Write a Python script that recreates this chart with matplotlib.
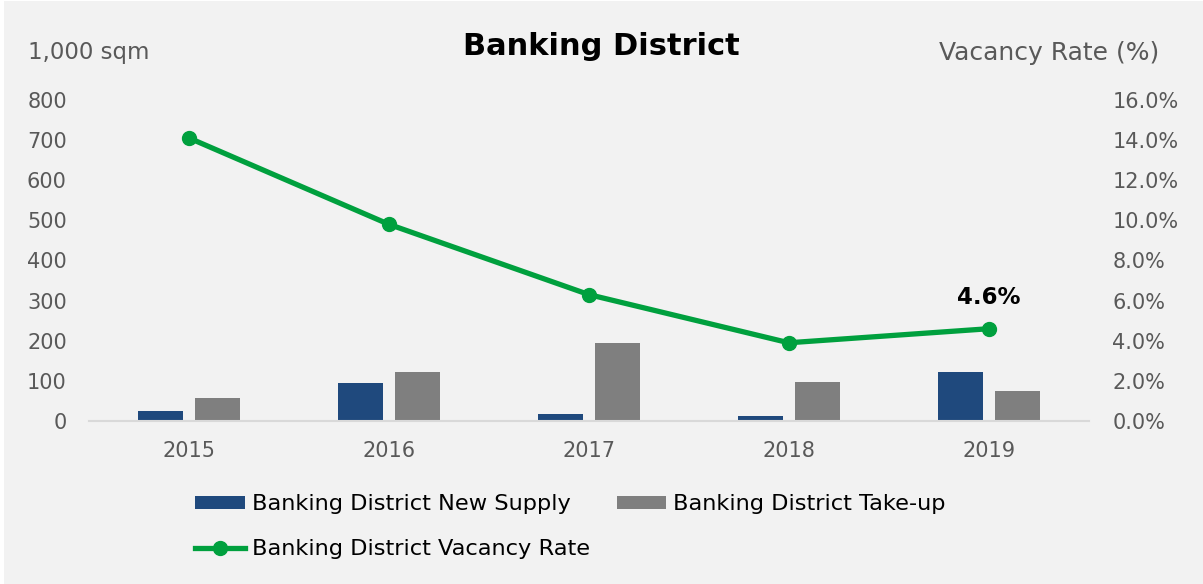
import numpy as np
import matplotlib
matplotlib.use("Agg")
import matplotlib.pyplot as plt
from matplotlib.patches import Rectangle
from matplotlib.ticker import FuncFormatter

# data
years = ["2015", "2016", "2017", "2018", "2019"]
new_supply = [25, 95, 17, 12, 122]
take_up = [57, 122, 195, 97, 75]
vacancy = [14.1, 9.8, 6.3, 3.9, 4.6]

navy = "#1f497d"
grey = "#7f7f7f"
green = "#00a03e"
tick_col = "#595959"
bg = "#f2f2f2"

plt.rcParams['font.family'] = ['DejaVu Sans']

fig = plt.figure(figsize=(12.03, 5.84), dpi=100, facecolor="white")
# chart area background (thin white edge left/top like the original)
fig.add_artist(Rectangle((4 / 1203, 0), 1, 1 - 1 / 584, transform=fig.transFigure,
                         facecolor=bg, edgecolor="none", zorder=-10))

ax = fig.add_axes([0.074, 0.279, 0.831, 0.550])
ax.set_facecolor(bg)
ax2 = ax.twinx()

x = np.arange(len(years))
w = 0.225
b1 = ax.bar(x - 0.1425, new_supply, w, color=navy, label="Banking District New Supply", zorder=2)
b2 = ax.bar(x + 0.1425, take_up, w, color=grey, label="Banking District Take-up", zorder=2)
ln, = ax2.plot(x, vacancy, color=green, lw=3.8, marker="o", ms=10,
               label="Banking District Vacancy Rate", zorder=3)

ax.set_xlim(-0.5, len(years) - 0.5)
ax.set_ylim(0, 800)
ax.set_yticks(range(0, 801, 100))
ax2.set_ylim(0, 16)
ax2.set_yticks(np.arange(0, 16.1, 2))
ax2.yaxis.set_major_formatter(FuncFormatter(lambda v, p: f"{v:.1f}%"))
ax.set_xticks(x)
ax.set_xticklabels(years)

for a in (ax, ax2):
    for s in a.spines.values():
        s.set_visible(False)
    a.tick_params(length=0, colors=tick_col, labelsize=15)
ax.spines["bottom"].set_visible(True)
ax.spines["bottom"].set_color("#d9d9d9")
ax.spines["bottom"].set_linewidth(1.5)
ax.tick_params(axis="y", pad=16)
ax.tick_params(axis="x", pad=14)
ax2.tick_params(axis="y", pad=17)

ax2.annotate(f"{vacancy[-1]}%", (x[-1], vacancy[-1]), xytext=(0, 14),
             textcoords="offset points", ha="center", va="bottom",
             fontsize=16.5, fontweight="bold", color="black")

fig.text(0.5, 0.92, "Banking District", ha="center", va="center",
         fontsize=22, fontweight="bold", color="black")
fig.text(0.023, 0.91, "1,000 sqm", ha="left", va="center", fontsize=16.5, color=tick_col)
fig.text(0.964, 0.91, "Vacancy Rate (%)", ha="right", va="center", fontsize=18, color=tick_col)

leg = fig.legend([b1, ln, b2], [b1.get_label(), ln.get_label(), b2.get_label()],
                 ncol=2, loc="upper left", bbox_to_anchor=(0.1455, 0.188),
                 frameon=False, fontsize=16.2, handlelength=2.2, handleheight=0.55,
                 columnspacing=1.2, labelspacing=1.1, handletextpad=0.3)
for t in leg.get_texts():
    t.set_color("black")

fig.savefig("out.png", dpi=100, facecolor="white")
